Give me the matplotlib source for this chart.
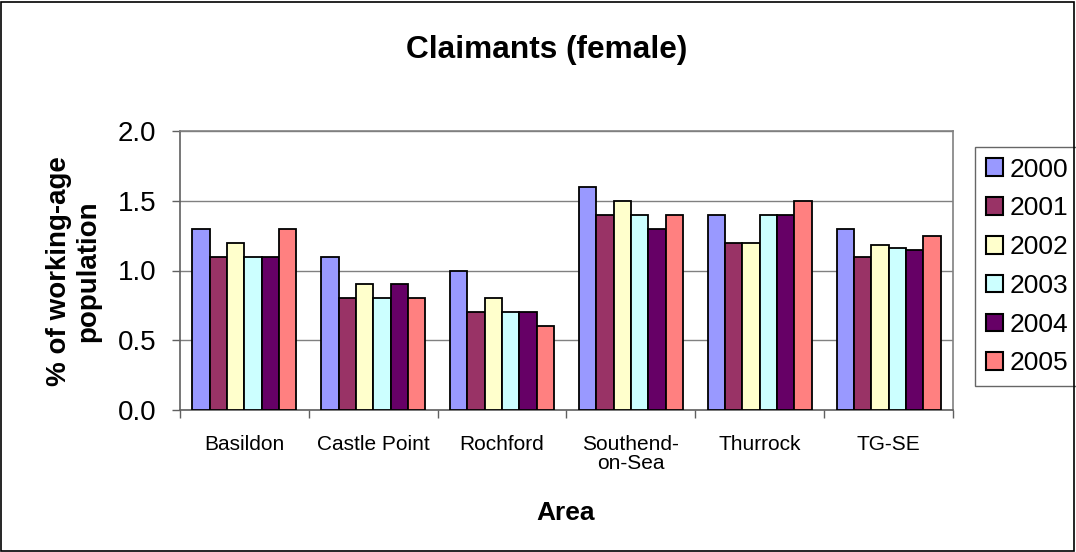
import matplotlib
matplotlib.use("Agg")
import matplotlib.pyplot as plt
import numpy as np
from matplotlib.patches import Rectangle

plt.rcParams['font.family'] = ['Liberation Sans', 'DejaVu Sans']

categories = ["Basildon", "Castle Point", "Rochford", "Southend-\non-Sea", "Thurrock", "TG-SE"]
years = ["2000", "2001", "2002", "2003", "2004", "2005"]
values = {
    "2000": [1.3, 1.1, 1.0, 1.6, 1.4, 1.30],
    "2001": [1.1, 0.8, 0.7, 1.4, 1.2, 1.10],
    "2002": [1.2, 0.9, 0.8, 1.5, 1.2, 1.18],
    "2003": [1.1, 0.8, 0.7, 1.4, 1.4, 1.16],
    "2004": [1.1, 0.9, 0.7, 1.3, 1.4, 1.15],
    "2005": [1.3, 0.8, 0.6, 1.4, 1.5, 1.25],
}
colors = ["#9999FF", "#993366", "#FFFFCC", "#CCFFFF", "#660066", "#FF8080"]

W, H = 1076, 552
fig = plt.figure(figsize=(W / 100, H / 100), dpi=100)
ax = fig.add_axes([180 / W, 1 - 410 / H, (953 - 180) / W, (410 - 131) / H])

n = len(years)
bw = 0.1345
x = np.arange(len(categories))
for i, (yr, c) in enumerate(zip(years, colors)):
    offs = (i - (n - 1) / 2) * bw
    ax.bar(x + offs, values[yr], width=bw, color=c, edgecolor="black",
           linewidth=1.3, label=yr, zorder=3)

ax.set_xlim(-0.5, len(categories) - 0.5)
ax.set_ylim(0, 2.0)
ax.set_yticks([0, 0.5, 1.0, 1.5, 2.0])
ax.set_yticklabels(["0.0", "0.5", "1.0", "1.5", "2.0"], fontsize=20)
ax.yaxis.grid(True, color="#808080", linewidth=1.0, zorder=0)
ax.set_axisbelow(True)

ax.set_xticks(np.arange(-0.5, len(categories), 1.0))
ax.set_xticklabels([])
ax.set_xticks(x, minor=True)
ax.set_xticklabels(categories, minor=True, fontsize=15, linespacing=1.0)
ax.tick_params(axis="x", which="minor", length=0, pad=18)
ax.tick_params(axis="x", which="major", length=6, color="#606060", width=1)
ax.tick_params(axis="y", length=6, color="#606060", width=1, pad=11)

for s in ax.spines.values():
    s.set_color("#808080")
    s.set_linewidth(1.2)
ax.spines["left"].set_color("#606060")
ax.spines["bottom"].set_color("#606060")

fig.text(547 / W, 1 - 50 / H, "Claimants (female)", fontsize=22.8, fontweight="bold",
         ha="center", va="center")
fig.text(566 / W, 1 - 513 / H, "Area", fontsize=19, fontweight="bold",
         ha="center", va="center")
fig.text(74 / W, 1 - 271 / H, "% of working-age\npopulation", fontsize=20,
         fontweight="bold", ha="center", va="center", rotation=90, linespacing=1.15)

leg = ax.legend(loc="upper left", bbox_to_anchor=(975 / W, 1 - 147 / H),
                bbox_transform=fig.transFigure, frameon=True, fancybox=False,
                fontsize=19, handlelength=0.65, handleheight=0.65, handletextpad=0.25,
                labelspacing=0.56, borderpad=0.4, borderaxespad=0)
leg.get_frame().set_edgecolor("#404040")
leg.get_frame().set_linewidth(1.0)
for h in leg.legend_handles:
    h.set_linewidth(1.5)

fig.patches.append(Rectangle((1 / W, 1 / H), (W - 3) / W, (H - 3) / H,
                             transform=fig.transFigure, fill=False,
                             edgecolor="black", linewidth=1.2))

fig.savefig("out.png", dpi=100)
